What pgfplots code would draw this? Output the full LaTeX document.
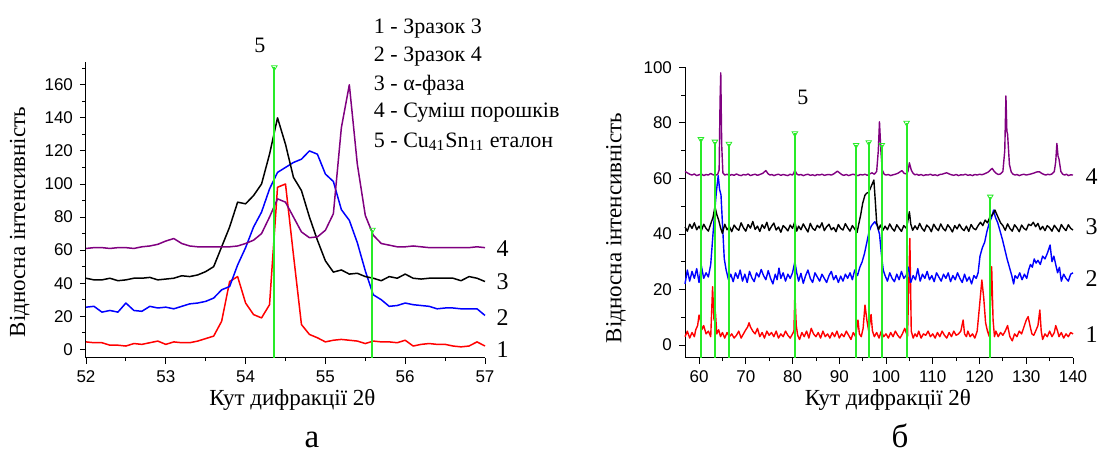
\documentclass[border=0pt]{standalone}
\usepackage{fontspec}
\setmainfont{Liberation Serif}
\newfontfamily\tickfont{Liberation Sans}
\usepackage{pgfplots}
\pgfplotsset{compat=1.18}

\definecolor{cred}{RGB}{255,0,0}
\definecolor{cblue}{RGB}{0,0,255}
\definecolor{cpurple}{RGB}{128,0,128}
\definecolor{cgreen}{RGB}{40,235,40}

\tikzset{lbl/.style={font=\fontsize{11}{12}\selectfont}}
\pgfplotsset{
  xrd/.style={
    scale only axis,
    axis x line*=bottom, axis y line*=left,
    tick align=outside,
    major tick length=3pt, minor tick length=1.8pt,
    tick style={black, line width=0.4pt},
    axis line style={line width=0.5pt},
    ticklabel style={font=\tickfont\fontsize{8.5}{9}\selectfont},
    /pgf/number format/assume math mode=true,
    label style={font=\fontsize{11.5}{12}\selectfont},
    clip=false,
  },
  crv/.style={line width=0.75pt, line join=round},
  ref/.style={cgreen, line width=1pt},
  refmark/.style={only marks, mark=triangle, mark size=1.6pt,
    mark options={rotate=180, cgreen, line width=0.4pt}},
}

\begin{document}
\begin{tikzpicture}[x=1pt,y=1pt]
\path[use as bounding box] (0,0) rectangle (551,228);

% ---------------- a ----------------
\begin{axis}[xrd,
  at={(43pt,49.2pt)}, anchor=south west,
  width=199.5pt, height=148pt,
  xmin=52, xmax=57, ymin=-5, ymax=174,
  xtick={52,53,...,57}, minor xtick={52.5,53.5,...,56.5},
  ytick={0,20,...,160}, minor ytick={10,30,...,170},
  xlabel={Кут дифракції 2θ}, ylabel={Відносна інтенсивність},
  xlabel style={at={(axis description cs:0.5175,-0.143)}, anchor=center},
  ylabel style={at={(axis description cs:-0.166,0.458)}, anchor=center, rotate=0},
]
% 1
\addplot[crv, cred] coordinates {(52,4.5)(52.1,4)(52.2,4)(52.3,2.5)(52.4,2.5)(52.5,2)(52.6,3.5)(52.7,3)(52.8,4)(52.9,5)(53,3)(53.1,4.5)(53.2,4)(53.3,4)(53.4,5)(53.5,6.5)(53.6,8)(53.7,17)(53.8,41)(53.9,44)(54,28)(54.1,21)(54.2,19)(54.3,27)(54.4,98)(54.5,100)(54.6,57)(54.7,15)(54.8,9)(54.9,7)(55,4.5)(55.1,5.5)(55.2,6)(55.3,5.5)(55.4,5)(55.5,3.5)(55.6,5)(55.7,4.5)(55.8,4.5)(55.9,4)(56,5.5)(56.1,2)(56.2,3)(56.3,3.5)(56.4,3)(56.5,3)(56.6,2)(56.7,1.5)(56.8,2)(56.9,4.5)(57,2)};
% 2
\addplot[crv, cblue] coordinates {(52,25.5)(52.1,26)(52.2,22.5)(52.3,23.5)(52.4,22.5)(52.5,28)(52.6,23.5)(52.7,23)(52.8,26)(52.9,25)(53,25.5)(53.1,24.5)(53.2,26)(53.3,27.5)(53.4,28)(53.5,29)(53.6,31)(53.7,36)(53.8,38)(53.9,51)(54,61.5)(54.1,74)(54.2,83)(54.3,97)(54.4,107)(54.5,110)(54.6,113)(54.7,115)(54.8,120)(54.9,118)(55,106)(55.1,101.5)(55.2,84.5)(55.3,78)(55.4,64.5)(55.5,47.5)(55.6,33)(55.7,30)(55.8,26)(55.9,26.5)(56,28)(56.1,27)(56.2,26.5)(56.3,26)(56.4,24.5)(56.5,25)(56.6,25)(56.7,24.5)(56.8,24.5)(56.9,24.5)(57,20.5)};
% 3
\addplot[crv, black] coordinates {(52,43)(52.1,42)(52.2,42)(52.3,43)(52.4,41.5)(52.5,42)(52.6,43)(52.7,43)(52.8,43.5)(52.9,42)(53,42.5)(53.1,43)(53.2,44.5)(53.3,44)(53.4,45)(53.5,47)(53.6,50)(53.7,62)(53.8,74)(53.9,89)(54,88)(54.1,93)(54.2,100)(54.3,118)(54.4,140)(54.5,124)(54.6,104)(54.7,96)(54.8,80)(54.9,66)(55,53.5)(55.1,46.7)(55.2,48)(55.3,45.5)(55.4,46)(55.5,44)(55.6,43)(55.7,41.5)(55.8,44)(55.9,43)(56,45.5)(56.1,43)(56.2,42.5)(56.3,43)(56.4,43)(56.5,43)(56.6,43)(56.7,41.5)(56.8,44)(56.9,43)(57,41)};
% 4
\addplot[crv, cpurple] coordinates {(52,61)(52.1,61.5)(52.2,61.5)(52.3,61)(52.4,61.5)(52.5,61.5)(52.6,61)(52.7,62)(52.8,62.5)(52.9,63.5)(53,65.5)(53.1,67)(53.2,64)(53.3,62.5)(53.4,62)(53.5,62)(53.6,62)(53.7,62)(53.8,62)(53.9,62.5)(54,64)(54.1,66)(54.2,70)(54.3,80)(54.4,91)(54.5,89)(54.6,80)(54.7,71)(54.8,67.5)(54.9,68)(55,72)(55.1,82)(55.2,134)(55.3,160)(55.4,112)(55.5,81)(55.6,69)(55.7,64)(55.8,63)(55.9,62)(56,62)(56.1,62.5)(56.2,62)(56.3,61.5)(56.4,61.5)(56.5,61.5)(56.6,61.5)(56.7,61.5)(56.8,61.5)(56.9,62)(57,61.5)};
% 5
\addplot[ref] coordinates {(54.36,-5)(54.36,170.5)};
\addplot[ref] coordinates {(55.59,-5)(55.59,72.3)};
\addplot[refmark] coordinates {(54.36,170.5)(55.59,72.3)};

\node[lbl] at (axis cs:54.18,184) {5};
\node[lbl, anchor=west] at (axis cs:55.52,194) {1 - Зразок 3};
\node[lbl, anchor=west] at (axis cs:55.52,177) {2 - Зразок 4};
\node[lbl, anchor=west] at (axis cs:55.52,160) {3 - α-фаза};
\node[lbl, anchor=west] at (axis cs:55.52,143) {4 - Суміш порошків};
\node[lbl, anchor=west] at (axis cs:55.52,125.5) {5 - Cu\textsubscript{41}Sn\textsubscript{11} еталон};
\node[lbl, font=\fontsize{12}{13}\selectfont] at (axis cs:57.22,61.2) {4};
\node[lbl, font=\fontsize{12}{13}\selectfont] at (axis cs:57.22,40.7) {3};
\node[lbl, font=\fontsize{12}{13}\selectfont] at (axis cs:57.22,19.5) {2};
\node[lbl, font=\fontsize{12}{13}\selectfont] at (axis cs:57.22,-0.4) {1};
\end{axis}

% ---------------- b ----------------
\begin{axis}[xrd,
  at={(342.5pt,49.25pt)}, anchor=south west,
  width=194pt, height=145.1pt,
  xmin=57, xmax=140, ymin=-4.5, ymax=100,
  xtick={60,70,...,140}, minor xtick={65,75,...,135},
  ytick={0,20,...,100}, minor ytick={10,30,...,90},
  xlabel={Кут дифракції 2θ}, ylabel={Відносна інтенсивність},
  xlabel style={at={(axis description cs:0.523,-0.146)}, anchor=center},
  ylabel style={at={(axis description cs:-0.178,0.446)}, anchor=center, rotate=0},
]
% 1
\addplot[crv, cred, line width=0.7pt] coordinates {(57,3)(57.5,5)(58,2.5)(58.5,4.5)(59,3)(59.3,5.5)(59.7,7)(60,10.8)(60.3,9)(60.6,5.5)(61,7)(61.5,4)(62,5)(62.5,3)(62.9,21)(63.2,9)(63.5,12)(63.8,4)(64.2,5.5)(64.6,3)(65,4.5)(65.5,2.5)(66,4.5)(66.5,3)(67,4)(67.5,2.5)(68,3.5)(68.5,5)(69,2.5)(69.5,4)(70,5.5)(70.4,6.5)(70.7,8)(71,6.5)(71.5,5)(72,4)(72.5,6)(73,3)(73.5,4.5)(74,2.5)(74.5,5)(75,3.5)(75.5,4.5)(76,3)(76.5,5)(77,2.5)(77.5,4)(78,3)(78.5,5)(79,3.5)(79.5,2.5)(80,4)(80.3,5)(80.5,18.7)(80.8,7)(81.1,3.5)(81.5,2)(82,4.5)(82.5,3)(83,5)(83.5,2.5)(84,6)(84.5,4)(85,3)(85.5,4.5)(86,2.5)(86.5,5)(87,3)(87.5,4)(88,2.5)(88.5,4.5)(89,3)(89.5,5)(90,2.5)(90.5,4)(91,3)(91.5,5)(92,3.5)(92.5,2)(93,4.5)(93.5,3)(94,9)(94.3,4)(94.7,3)(95.1,6)(95.5,14.4)(95.9,9)(96.3,5)(96.8,11)(97.1,5)(97.5,3)(98,4.5)(98.5,2.5)(99,5)(99.5,3)(100,4)(100.5,2.5)(101,4.5)(101.5,3)(102,5)(102.5,3.5)(103,2.5)(103.5,4)(104,6)(104.6,3)(105.1,38.4)(105.4,5)(105.8,2.5)(106.2,4)(106.6,3)(107,5)(107.5,2.5)(108,4)(108.5,3.5)(109,5)(109.5,3)(110,4)(110.5,2.5)(111,4.5)(111.5,3)(112,5)(112.5,3.5)(113,2.5)(113.5,4.5)(114,3)(114.5,5)(115,3.5)(115.5,4)(116,5)(116.5,9)(116.8,4)(117.2,3)(117.5,5)(118,3)(118.5,4)(119,2.5)(119.5,5)(120,14)(120.5,23.4)(120.9,17)(121.3,8)(121.7,5)(122.1,3)(122.6,28.2)(122.9,9)(123.2,3)(123.5,5)(124,3)(124.5,4.5)(125,3.5)(125.5,5)(126,7)(126.5,3)(127,1.5)(127.5,4)(128,3)(128.5,5)(129,4)(129.5,6.5)(130,9)(130.4,10.2)(130.8,7)(131.2,4)(131.6,3.5)(132,5)(132.5,7)(132.9,12.6)(133.2,5)(133.5,2)(134,4)(134.5,3)(135,5)(135.5,3)(136,4.5)(136.3,7)(136.7,5)(137,3)(137.5,4.5)(138,2.5)(138.5,4)(139,3)(139.5,4.5)(140,4)};
% 2
\addplot[crv, cblue, line width=0.7pt] coordinates {(57,22)(57.5,27)(58,23)(58.5,26.5)(59,24)(59.5,27.5)(60,22.5)(60.5,28.5)(61,24)(61.5,26)(62,24.5)(62.5,29)(62.9,38)(63.3,47)(63.7,55)(64.1,61)(64.4,56)(64.7,54)(65,44)(65.4,31)(65.8,27)(66.3,23.5)(66.8,25.5)(67.3,22.8)(67.8,26)(68.3,24)(68.8,27)(69.3,23)(69.8,25.5)(70.3,22.5)(70.8,26.5)(71.3,24.2)(71.8,22.8)(72.3,26)(72.8,24.5)(73.3,27.2)(73.8,25)(74.3,23.5)(74.8,26.8)(75.3,24)(75.8,22)(76.3,25.5)(76.7,23.5)(77.1,27.7)(77.5,24)(78,26)(78.5,23)(79,25.5)(79.5,24)(80,26)(80.5,30)(80.9,26)(81.3,23)(81.8,25.8)(82.3,22.2)(82.8,25)(83.3,27)(83.8,24)(84.3,22.5)(84.8,26)(85.3,24.5)(85.8,23)(86.3,25.5)(86.8,24)(87.3,22.5)(87.8,25)(88.3,26.5)(88.8,23.5)(89.3,25)(89.8,22.5)(90.3,24.8)(90.8,23)(91.3,25.5)(91.8,24)(92.3,26)(92.8,23.5)(93.3,27)(93.9,25)(94.4,28)(94.9,30)(95.4,33)(95.9,37)(96.4,41)(96.9,43)(97.6,44.4)(98.1,43)(98.6,40)(99,33)(99.4,27)(99.8,25)(100.3,23)(100.8,26)(101.3,24)(101.8,22.8)(102.3,25.5)(102.8,23.5)(103.3,26.5)(103.8,24)(104.3,25)(104.8,28)(105.3,22.5)(105.8,25)(106.3,23.5)(106.8,27.5)(107.3,23)(107.8,25.5)(108.3,24)(108.8,26.5)(109.3,23.5)(109.8,25)(110.3,22.8)(110.8,26)(111.3,24.5)(111.8,23)(112.3,25.5)(112.8,24)(113.3,26)(113.8,22.8)(114.3,25)(114.8,23.5)(115.3,26)(115.8,24)(116.3,22.5)(116.8,25.5)(117.3,23)(117.8,24.5)(118.3,22)(118.8,25)(119.3,24)(119.7,26)(120.1,32)(120.6,35)(121.1,37)(121.6,41)(122.1,44)(122.6,46)(123,48.6)(123.4,46)(123.9,44)(124.4,41)(124.9,38)(125.4,34.5)(125.9,31)(126.4,28)(126.9,25)(127.3,22)(127.6,25)(128.1,24)(128.6,26)(129.1,23.5)(129.6,25.5)(130.1,24)(130.5,27)(130.9,29)(131.3,28)(131.7,31)(132.1,29.5)(132.5,30.5)(133,29)(133.5,32)(134,31)(134.5,33)(135.1,36)(135.5,30)(135.9,32)(136.3,29)(136.7,26)(137.1,28)(137.5,23)(138,25.5)(138.5,24)(139,23)(139.5,25.5)(140,26)};
% 3
\addplot[crv, black, line width=0.7pt] coordinates {(57,42.5)(57.5,41)(58,43.5)(58.5,42)(59,44)(59.5,41.5)(60,42.8)(60.5,41.2)(61,43.5)(61.5,42)(62,41)(62.5,43.6)(63,46)(63.4,49.8)(63.8,47)(64.2,45)(64.6,42.2)(65,40.2)(65.5,43.5)(66,41.5)(66.5,42.6)(67,40.8)(67.5,43.2)(68,42)(68.5,41.3)(69,44)(69.5,42.2)(70,41)(70.5,43.4)(71,42.1)(71.5,44.5)(72,41.6)(72.5,42.8)(73,40.9)(73.5,43.3)(74,42)(74.5,44.2)(75,41.2)(75.5,42.7)(76,43.9)(76.5,41.4)(77,42.5)(77.5,40.6)(78,43)(78.5,42.2)(79,41.1)(79.5,43.2)(80,42)(80.5,44.5)(80.9,41)(81.3,42.8)(81.8,41.5)(82.3,43.6)(82.8,42.1)(83.3,40.7)(83.8,43.8)(84.3,42)(84.8,41.3)(85.3,43.1)(85.8,42.2)(86.3,44)(86.8,41.2)(87.3,42.6)(87.8,43.5)(88.3,41.5)(88.8,42.3)(89.3,40.8)(89.8,43.4)(90.3,42)(90.8,41.4)(91.3,43.7)(91.8,42.2)(92.3,41)(92.8,43)(93.3,41.8)(93.8,40.5)(94.2,43.8)(94.6,47)(95,51)(95.5,54)(95.9,54.7)(96.3,55)(96.8,57)(97.4,59.4)(97.7,52)(98,44)(98.4,41.5)(98.8,43.2)(99.3,41.2)(99.8,42.8)(100.3,41.5)(100.8,43.6)(101.3,42)(101.8,41)(102.3,43.3)(102.8,42.1)(103.3,40.9)(103.8,43)(104.4,42)(105,48)(105.3,43.5)(105.7,41.3)(106.2,42.9)(106.7,41.6)(107.2,43.8)(107.7,42)(108.2,41)(108.7,43.2)(109.2,42.4)(109.7,40.8)(110.2,43.5)(110.7,42.1)(111.2,41.2)(111.7,43.6)(112.2,42)(112.7,41.1)(113.2,43.3)(113.7,42.2)(114.2,40.7)(114.7,43)(115.2,41.8)(115.7,43.5)(116.2,42)(116.7,41.2)(117.2,42.8)(117.7,40.9)(118.2,43.4)(118.7,42)(119.2,41.5)(119.7,43)(120.2,44.2)(120.7,43)(121.2,45)(121.7,44)(122.2,46)(122.8,47)(123.3,48.6)(123.7,47)(124.1,45.5)(124.5,44)(125,43)(125.5,41.3)(126,43.6)(126.5,42)(127,41)(127.5,43.3)(128,42.2)(128.5,40.8)(129,43.2)(129.5,42)(130,41.4)(130.5,43.5)(131,43)(131.5,44.2)(132,42.6)(132.5,43.8)(133,41.5)(133.5,42.7)(134,41.2)(134.5,43)(135,42.2)(135.5,41)(136,43.1)(136.5,42)(137,40.8)(137.5,43.4)(138,42.1)(138.5,41.2)(139,43.3)(139.5,42)(140,41.4)};
% 4
\addplot[crv, cpurple, line width=0.7pt] coordinates {(57,62.5)(57.5,62)(58,61.5)(58.5,61.2)(59,61.6)(59.5,61)(60,61.3)(60.5,61.6)(61,61)(61.5,61.4)(62,61.2)(62.5,61.8)(63,61.3)(63.5,61.1)(64,61.5)(64.3,63)(64.5,88)(64.65,98)(64.85,72)(65.1,62)(65.5,61.2)(66,61.5)(66.5,61)(67,61.4)(67.5,61.1)(68,61.6)(68.5,61.2)(69,61)(69.5,61.4)(70,61.2)(70.5,61.6)(71,61)(71.5,61.3)(72,61.5)(72.5,61.1)(73,61.4)(73.6,61.8)(74.3,62.8)(74.8,61.6)(75.2,61.2)(75.6,61.4)(76,61)(76.5,61.3)(77,61.5)(77.5,61.1)(78,61.4)(78.5,61.2)(79,61)(79.5,61.5)(80,61.2)(80.3,62)(80.5,63)(80.9,61.6)(81.3,61.2)(81.8,61.4)(82.3,61)(82.8,61.3)(83.3,61.5)(83.8,61.1)(84.3,61.3)(84.8,61)(85.3,61.4)(85.8,61.2)(86.3,61.5)(86.8,61.1)(87.3,61.3)(87.8,61.4)(88.3,61.2)(88.8,61.6)(89.6,62.6)(90.2,61.8)(90.6,61.3)(91,61.1)(91.5,61.4)(92,61)(92.5,61.3)(93,61.5)(93.5,61.2)(94,61)(94.5,61.4)(95,61.2)(95.5,61.5)(96,61.1)(96.5,61.6)(97,62)(97.5,61.5)(98,62.5)(98.35,70)(98.6,80.4)(98.9,70)(99.2,63)(99.6,61.5)(100,61.2)(100.5,61.4)(101,61)(101.5,61.3)(102,61.5)(102.6,61.9)(103.4,62.8)(103.9,61.8)(104.4,61.6)(104.7,62.5)(105,65.6)(105.4,63)(105.8,61.8)(106.2,61.3)(106.6,61.5)(107,61.1)(107.5,61.4)(108,61)(108.5,61.3)(109,61.2)(109.5,61.5)(110,61.1)(110.5,61.3)(111,61)(111.5,61.4)(112,61.5)(112.5,61.8)(113,62)(113.5,61.6)(114,61.3)(114.5,61.1)(115,61.4)(115.5,61)(116,61.3)(116.5,61.2)(117,61.5)(117.5,61.1)(118,61.3)(118.5,61)(119,61.4)(119.5,61.2)(120,61.5)(120.5,61.3)(121,61.6)(121.8,62.2)(122.7,63.6)(123.2,62.4)(123.6,61.8)(124,61.4)(124.5,61.6)(125,62.5)(125.4,70)(125.65,89.7)(125.85,77)(126,76)(126.4,65)(126.8,62.2)(127.2,61.5)(127.6,61.2)(128,61.4)(128.5,61)(129,61.3)(129.5,61.5)(130,61.2)(130.5,61.4)(131,61.6)(131.6,61.9)(132.2,62.3)(132.8,62.4)(133.3,61.8)(133.8,61.4)(134.2,61.2)(134.6,61.5)(135,61.3)(135.5,61.6)(136,62.5)(136.3,66)(136.55,72.6)(136.8,68)(137,67)(137.4,62.5)(137.8,61.5)(138.2,61.2)(138.6,61.5)(139,61)(139.5,61.3)(140,61.2)};
% 5
\addplot[ref] coordinates {(60.4,-4.5)(60.4,74.1)};
\addplot[ref] coordinates {(63.4,-4.5)(63.4,73.2)};
\addplot[ref] coordinates {(66.4,-4.5)(66.4,72.4)};
\addplot[ref] coordinates {(80.5,-4.5)(80.5,76.2)};
\addplot[ref] coordinates {(93.6,-4.5)(93.6,72)};
\addplot[ref] coordinates {(96.3,-4.5)(96.3,73)};
\addplot[ref] coordinates {(99.1,-4.5)(99.1,72)};
\addplot[ref] coordinates {(104.4,-4.5)(104.4,80)};
\addplot[ref] coordinates {(122.3,-4.5)(122.3,53.4)};
\addplot[refmark] coordinates {(60.4,74.1)(63.4,73.2)(66.4,72.4)(80.5,76.2)(93.6,72)(96.3,73)(99.1,72)(104.4,80)(122.3,53.4)};

\node[lbl] at (axis cs:82.2,89) {5};
\node[lbl, font=\fontsize{12}{13}\selectfont] at (axis cs:144,60.6) {4};
\node[lbl, font=\fontsize{12}{13}\selectfont] at (axis cs:144,42.6) {3};
\node[lbl, font=\fontsize{12}{13}\selectfont] at (axis cs:144,24) {2};
\node[lbl, font=\fontsize{12}{13}\selectfont] at (axis cs:144,3.6) {1};
\end{axis}

\node[anchor=base, inner sep=0pt, font=\fontsize{16.5}{18}\selectfont] at (156,4.5) {а};
\node[anchor=base, inner sep=0pt, font=\fontsize{16.5}{18}\selectfont] at (450,4.5) {б};
\end{tikzpicture}
\end{document}
